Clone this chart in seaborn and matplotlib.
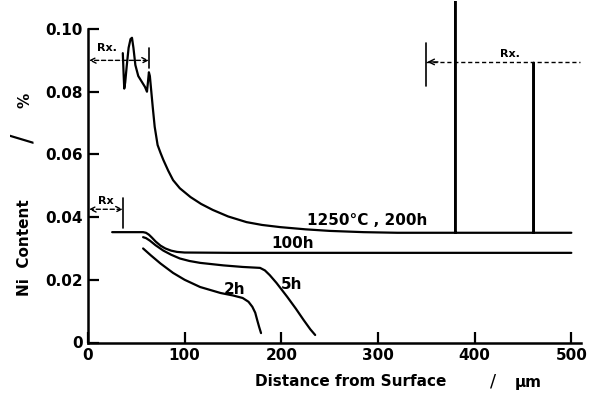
import matplotlib
matplotlib.use("Agg")
import matplotlib.pyplot as plt
import seaborn as sns
import pandas as pd

# ---- data ----
x_200h = [36, 36.8, 37.5, 38.5, 40, 42, 44, 45.5, 47, 49, 52, 56, 59, 61, 62, 63, 64, 65.5, 67, 69, 72, 75, 78, 83, 88,
          95, 106, 117, 129, 145, 164, 180, 199, 225, 250, 285, 320,
          380, 380, 380, 461, 461, 461, 500]
y_200h = [0.0923, 0.0860, 0.0810, 0.0830, 0.0880, 0.0940, 0.0968, 0.0972, 0.0940, 0.0885, 0.0850, 0.0830, 0.0815, 0.0800,
          0.0830, 0.0862, 0.0850, 0.0800, 0.0750, 0.0688, 0.0630, 0.0605, 0.0582, 0.0548, 0.0518,
          0.0492, 0.0464, 0.0442, 0.0423, 0.0402, 0.0384, 0.0375, 0.0368, 0.0361, 0.0356, 0.0352, 0.0350,
          0.0350, 0.1100, 0.0350, 0.0350, 0.0892, 0.0350, 0.0350]

x_100h = [25, 57, 60, 63, 66, 70, 75, 80, 86, 92, 100, 150, 500]
y_100h = [0.0352, 0.0352, 0.0350, 0.0344, 0.0335, 0.0322, 0.0309, 0.0300, 0.0293, 0.0289, 0.0287, 0.0286, 0.0286]

x_5h = [57, 60, 64, 70, 78, 86, 95, 105, 116, 140, 160, 178, 183, 188, 195, 206, 215, 223, 230, 235]
y_5h = [0.0336, 0.0333, 0.0325, 0.0310, 0.0293, 0.0280, 0.0268, 0.0260, 0.0254, 0.0246, 0.0241, 0.0238, 0.0230,
        0.0215, 0.0190, 0.0146, 0.0108, 0.0072, 0.0042, 0.0024]

x_2h = [57, 65, 75, 88, 100, 116, 137, 150, 160, 166, 170, 173, 175, 177, 179]
y_2h = [0.0300, 0.0278, 0.0252, 0.0222, 0.0200, 0.0177, 0.0158, 0.0150, 0.0142, 0.0130, 0.0114, 0.0095, 0.0072,
        0.0050, 0.0030]

x_ticks = [0, 100, 200, 300, 400, 500]
y_ticks = [0, 0.02, 0.04, 0.06, 0.08, 0.10]
y_ticklabels = ["0", "0.02", "0.04", "0.06", "0.08", "0.10"]

series_names = ["1250°C , 200h", "100h", "5h", "2h"]

frames = []
for name, xs, ys in zip(series_names, [x_200h, x_100h, x_5h, x_2h], [y_200h, y_100h, y_5h, y_2h]):
    frames.append(pd.DataFrame({"x": xs, "y": ys, "series": name}))
df = pd.concat(frames, ignore_index=True)

sns.set_style("ticks")
plt.rcParams["font.family"] = ["DejaVu Sans"]
plt.rcParams["font.weight"] = "bold"
plt.rcParams["text.color"] = "black"
plt.rcParams["xtick.color"] = "black"
plt.rcParams["ytick.color"] = "black"
plt.rcParams["axes.edgecolor"] = "black"

W, H = 592, 394
fig = plt.figure(figsize=(W / 100, H / 100), dpi=100)
ax = fig.add_axes([88 / W, (H - 342.5) / H, 493 / W, 341.7 / H])

for name in series_names:
    sub = df[df["series"] == name]
    sns.lineplot(data=sub, x="x", y="y", sort=False, estimator=None, color="black",
                 linewidth=1.6, ax=ax, legend=False)

ax.set_xlim(0, 510)
ax.set_ylim(0, 0.109)
ax.spines["top"].set_visible(False)
ax.spines["right"].set_visible(False)
ax.spines["left"].set_bounds(0, 0.10)
ax.spines["left"].set_linewidth(1.8)
ax.spines["bottom"].set_linewidth(1.8)
ax.set_xticks(x_ticks)
ax.set_yticks(y_ticks)
ax.set_yticklabels(y_ticklabels)
ax.tick_params(direction="in", length=8, width=1.6, labelsize=11, pad=4, colors="black")
for lab in ax.get_xticklabels() + ax.get_yticklabels():
    lab.set_fontweight("bold")
ax.set_xlabel("")
ax.set_ylabel("")

# Rx annotations
dash = dict(arrowstyle="<->", linestyle=(0, (3, 2)), lw=1.0, color="black", shrinkA=0, shrinkB=0)
ax.annotate("", xy=(1, 0.090), xytext=(63, 0.090), arrowprops=dash)
ax.plot([63, 63], [0.0876, 0.094], color="black", lw=1.2)
ax.text(20, 0.0925, "Rx.", fontsize=8, fontweight="bold", ha="center", va="bottom")

ax.annotate("", xy=(1, 0.0425), xytext=(36, 0.0425), arrowprops=dash)
ax.plot([36, 36], [0.0365, 0.0462], color="black", lw=1.2)
ax.text(18, 0.0435, "Rx", fontsize=8, fontweight="bold", ha="center", va="bottom")

ax.plot([350, 509], [0.0895, 0.0895], color="black", lw=1.0, linestyle=(0, (3, 2)))
ax.annotate("", xy=(351, 0.0895), xytext=(362, 0.0895),
            arrowprops=dict(arrowstyle="->", lw=1.0, color="black", shrinkA=0, shrinkB=0))
ax.plot([350, 350], [0.0818, 0.0955], color="black", lw=1.2)
ax.text(437, 0.0905, "Rx.", fontsize=8, fontweight="bold", ha="center", va="bottom")

# series labels
ax.text(289, 0.0365, series_names[0], fontsize=11, fontweight="bold", ha="center", va="bottom")
ax.text(212, 0.0292, series_names[1], fontsize=11, fontweight="bold", ha="center", va="bottom")
ax.text(211, 0.0185, series_names[2], fontsize=11, fontweight="bold", ha="center", va="center")
ax.text(152, 0.0168, series_names[3], fontsize=11, fontweight="bold", ha="center", va="center")

# axis titles as figure text
def ft(px, py, s, weight="bold", **kw):
    fig.text(px / W, 1 - py / H, s, fontweight=weight, **kw)

ft(351, 382, "Distance from Surface", fontsize=11, ha="center", va="center")
ft(493, 382, "/", weight="normal", fontsize=13, ha="center", va="center")
ft(528, 382, "µm", fontsize=11, ha="center", va="center")
ft(25, 248, "Ni  Content", fontsize=11, ha="center", va="center", rotation=90)
ft(23, 138, "/", weight="normal", fontsize=20, ha="center", va="center", rotation=90)
ft(25, 100, "%", fontsize=11, ha="center", va="center", rotation=90)

fig.savefig("out.png", dpi=100)
